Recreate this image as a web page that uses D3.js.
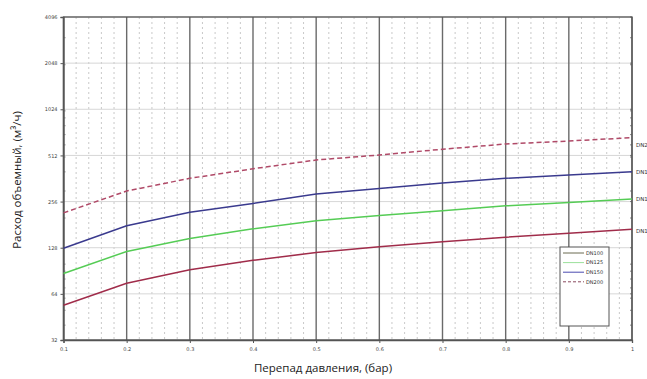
<!DOCTYPE html>
<html><head><meta charset="utf-8">
<script src="https://cdn.jsdelivr.net/npm/d3@7/dist/d3.min.js"></script>
<style>body{margin:0;background:#fff}svg{display:block}</style>
</head><body><svg id="c" width="647" height="379"></svg>
<script>
const pressure = [0.1,0.2,0.3,0.4,0.5,0.6,0.7,0.8,0.9,1.0];
const dn100 = [54,75,92,106,119,130,140,150,159,169];
const dn125 = [87,121,147,170,192,208,223,240,252,266];
const dn150 = [127,178,218,249,287,312,338,363,382,401];
const dn200 = [216,300,363,419,478,515,562,608,636,668];
const seriesNames = ["DN100","DN125","DN150","DN200"];
const yTicks = [32,64,128,256,512,1024,2048,4096];
const xTicks = [0.1,0.2,0.3,0.4,0.5,0.6,0.7,0.8,0.9,1];
const xLabel = "Перепад давления, (бар)";
const yLabel = "Расход объемный, (м³/ч)";

const svg = d3.select("#c");
const L=63.5, R=632, T=17, B=340;
const x = d3.scaleLinear().domain([0.1,1]).range([L,R]);
const y = d3.scaleLog().base(2).domain([32,4096]).range([B,T]);

// minor vertical dotted grid
const minorX = d3.range(0.1,1.0001,0.02).map(v=>+v.toFixed(2)).filter(v=>Math.abs(v*10-Math.round(v*10))>1e-6);
svg.append("g").selectAll("line").data(minorX).join("line")
  .attr("x1",d=>x(d)).attr("x2",d=>x(d)).attr("y1",T).attr("y2",B)
  .attr("stroke","#bbb").attr("stroke-width",0.8).attr("stroke-dasharray","2,3");
// horizontal grid
svg.append("g").selectAll("line").data(yTicks).join("line")
  .attr("x1",L).attr("x2",R).attr("y1",d=>y(d)).attr("y2",d=>y(d))
  .attr("stroke","#d2d2d2").attr("stroke-width",0.9);
// major vertical grid
svg.append("g").selectAll("line").data(xTicks).join("line")
  .attr("x1",d=>x(d)).attr("x2",d=>x(d)).attr("y1",T).attr("y2",B)
  .attr("stroke","#6a6a6a").attr("stroke-width",1.4);

// axes
const yAxis = d3.axisLeft(y).tickValues(yTicks).tickFormat(d3.format("d")).tickSize(3);
const gy = svg.append("g").attr("transform",`translate(${L},0)`).call(yAxis);
const xAxis = d3.axisBottom(x).tickValues(xTicks).tickFormat(d=>d===1?"1":d3.format(".1f")(d)).tickSize(3);
const gx = svg.append("g").attr("transform",`translate(0,${B})`).call(xAxis);
[gy,gx].forEach(g=>{
  g.selectAll("text").attr("font-family","DejaVu Sans").attr("font-size",5).attr("fill","#444");
  g.selectAll("line").attr("stroke","#555");
  g.select(".domain").attr("stroke","#555").attr("stroke-width",1.3);
});
gx.selectAll("text").attr("dy","0.9em");
// minor log ticks both sides
const minorY = [40,50,60,70,80,90,100,200,300,400,500,600,700,800,900,1000,2000,3000];
svg.append("g").selectAll("line").data(minorY).join("line")
  .attr("x1",L).attr("x2",L+2).attr("y1",d=>y(d)).attr("y2",d=>y(d)).attr("stroke","#666").attr("stroke-width",0.8);
svg.append("g").selectAll("line").data(minorY.concat(yTicks)).join("line")
  .attr("x1",R-2).attr("x2",R).attr("y1",d=>y(d)).attr("y2",d=>y(d)).attr("stroke","#666").attr("stroke-width",0.8);
// frame
svg.append("rect").attr("x",L).attr("y",T).attr("width",R-L).attr("height",B-T)
  .attr("fill","none").attr("stroke","#555").attr("stroke-width",1.3);

// series
const data = [dn100,dn125,dn150,dn200];
const colors = ["#a02c4a","#55cc55","#3a3a8e","#b04a68"];
const dashes = [null,null,null,"5,3"];
const line = d3.line().x((d,i)=>x(pressure[i])).y(d=>y(d)).curve(d3.curveLinear);
data.forEach((s,k)=>{
  svg.append("path").datum(s).attr("d",line).attr("fill","none")
    .attr("stroke",colors[k]).attr("stroke-width",1.5)
    .attr("stroke-dasharray",dashes[k]);
});
// end labels (truncated at the picture's edge in the reference)
const endOff = [2,0,0,7];
data.forEach((s,k)=>{
  svg.append("text").attr("x",636).attr("y",y(s[s.length-1])+endOff[k]+2)
    .attr("font-family","DejaVu Sans").attr("font-size",5.5).attr("fill","#333")
    .text(seriesNames[k].slice(0,3));
});

// legend
const lg = svg.append("g");
lg.append("rect").attr("x",560).attr("y",247).attr("width",49).attr("height",79)
  .attr("fill","#fff").attr("stroke","#555").attr("stroke-width",1);
const legColors = ["#6b6b50","#9be09b","#4a4ab0","#8a4a60"];
seriesNames.forEach((n,k)=>{
  const yy = 253 + k*9.6;
  lg.append("line").attr("x1",563).attr("x2",584).attr("y1",yy).attr("y2",yy)
    .attr("stroke",legColors[k]).attr("stroke-width",1).attr("stroke-dasharray",dashes[k]?"3,2":null);
  lg.append("text").attr("x",586).attr("y",yy+1.8).attr("font-family","DejaVu Sans")
    .attr("font-size",5).attr("fill","#333").text(n);
});

// axis titles
svg.append("text").attr("x",323).attr("y",372).attr("text-anchor","middle")
  .attr("font-family","Open Sans").attr("font-size",11.5).attr("fill","#222").text(xLabel);
svg.append("text").attr("transform","translate(21,180) rotate(-90)").attr("text-anchor","middle")
  .attr("font-family","Open Sans").attr("font-size",11.5).attr("fill","#222").text(yLabel);
</script></body></html>
